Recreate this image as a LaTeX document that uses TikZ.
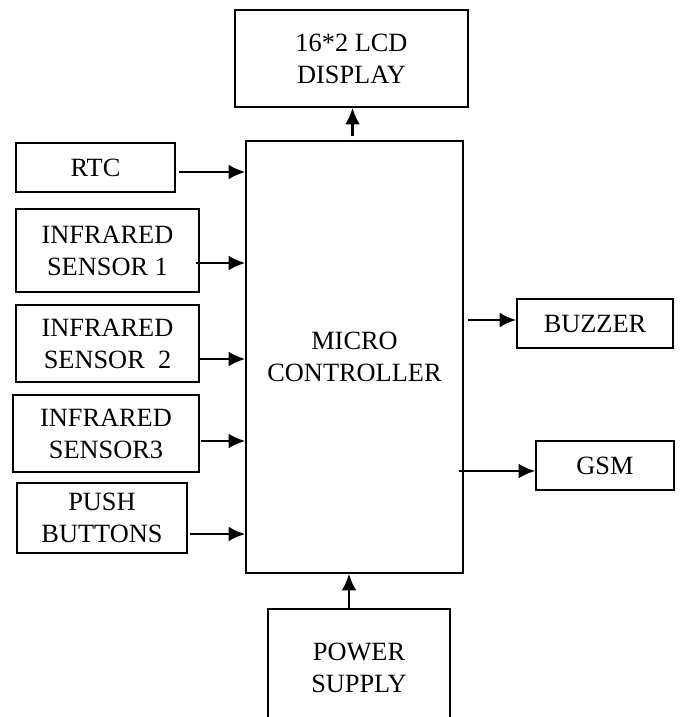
\documentclass[tikz,border=0pt]{standalone}
\usepackage{fontspec}
\setmainfont{Liberation Serif}
\usetikzlibrary{arrows.meta,calc}

\tikzset{blk/.style={draw,line width=0.9pt,align=center,
  font=\fontsize{15}{18.2}\selectfont}}

\begin{document}
\begin{tikzpicture}[x=0.02cm,y=-0.02cm,>={Latex[length=9.5pt,width=8.5pt]},inner sep=1pt]
\useasboundingbox (0,0) rectangle (681,717);
\clip (0,0) rectangle (681,717);
\node[blk,minimum width=4.34cm,minimum height=8.64cm] (mcu) at (354.5,357) {MICRO\\CONTROLLER};
\node[blk,minimum width=4.66cm,minimum height=1.94cm] (lcd) at (351.5,58.5) {16*2 LCD\\DISPLAY};
%
\node[blk,minimum width=3.18cm,minimum height=0.98cm] (rtc) at (95.5,167.5) {RTC};
\node[blk,minimum width=3.66cm,minimum height=1.66cm] (ir1) at (107.5,250.5) {INFRARED\\SENSOR 1};
\node[blk,minimum width=3.66cm,minimum height=1.54cm] (ir2) at (107.5,343.5) {INFRARED\\SENSOR\ \ 2};
\node[blk,minimum width=3.72cm,minimum height=1.54cm] (ir3) at (106,433.5) {INFRARED\\SENSOR3};
\node[blk,minimum width=3.40cm,minimum height=1.40cm] (push) at (102,518) {PUSH\\BUTTONS};
%
\node[blk,minimum width=3.12cm,minimum height=0.98cm] (buzz) at (595,323.5) {BUZZER};
\node[blk,minimum width=2.76cm,minimum height=0.98cm] (gsm) at (605,465.5) {GSM};
\node[blk,minimum width=3.64cm,minimum height=2.36cm] (pwr) at (359,668) {POWER\\SUPPLY};
%
\coordinate (rtcout) at ($(rtc.east)+(3,4.5)$);
\coordinate (ir1out) at ($(ir1.east)+(-4,12.5)$);
\coordinate (ir2out) at ($(ir2.east)+(0,15.5)$);
\coordinate (ir3out) at ($(ir3.east)+(1,7.5)$);
\coordinate (pushout) at ($(push.east)+(2,16)$);
\coordinate (bzin) at ($(buzz.west)+(0,-3.5)$);
\coordinate (bzout) at ($(bzin -| mcu.east)+(4,0)$);
\coordinate (gsmin) at ($(gsm.west)+(0,5.5)$);
\coordinate (gsmout) at ($(gsmin -| mcu.east)+(-5,0)$);
\coordinate (lcdout) at ($(mcu.north)+(-2,-4)$);
\coordinate (pwrout) at ($(pwr.north)+(-10,0)$);
%
\begin{scope}[line width=1.4pt]
\draw[->] (rtcout) -- (rtcout -| mcu.west);
\draw[->] (ir1out) -- (ir1out -| mcu.west);
\draw[->] (ir2out) -- (ir2out -| mcu.west);
\draw[->] (ir3out) -- (ir3out -| mcu.west);
\draw[->] (pushout) -- (pushout -| mcu.west);
\draw[->] (bzout) -- (bzin); \draw[->] (gsmout) -- (gsmin);
\draw[->] (lcdout) -- (lcdout |- lcd.south); \draw[->] (pwrout) -- (pwrout |- mcu.south);
\end{scope}
\end{tikzpicture}
\end{document}
